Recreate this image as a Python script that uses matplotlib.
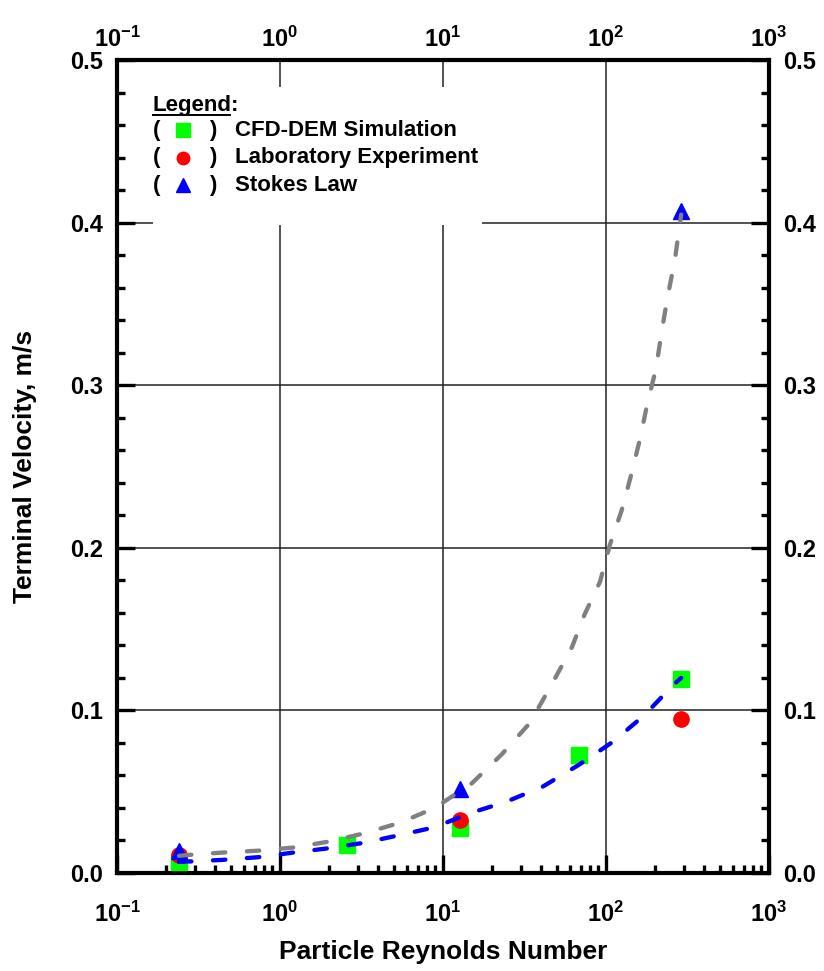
import numpy as np
import matplotlib
matplotlib.use("Agg")
import matplotlib.pyplot as plt
from matplotlib.ticker import FixedLocator, FuncFormatter, MultipleLocator, NullFormatter

plt.rcParams['font.family'] = ['Liberation Sans', 'DejaVu Sans']
plt.rcParams['font.weight'] = 'bold'
plt.rcParams['mathtext.fontset'] = 'custom'
plt.rcParams['mathtext.rm'] = 'Liberation Sans:bold'
plt.rcParams['mathtext.bf'] = 'Liberation Sans:bold'
plt.rcParams['mathtext.it'] = 'Liberation Sans:bold'

# measured points
re_cfd = [0.24, 2.57, 12.7, 68, 290]
v_cfd = [0.007, 0.017, 0.0275, 0.0728, 0.119]
re_lab = [0.24, 12.7, 290]
v_lab = [0.011, 0.0328, 0.095]
re_stokes = [0.24, 12.7, 290]
v_stokes = [0.0135, 0.0515, 0.407]

# dashed trend curves
re_gray = [0.24, 0.27, 0.44, 0.74, 1.2, 2.0, 3.3, 5.5, 8.9, 15, 23, 34, 46, 62,
           74, 92, 106, 125, 144, 162, 180, 203, 220, 239, 265, 290]
v_gray = [0.0105, 0.011, 0.0125, 0.0137, 0.0156, 0.0193, 0.0244, 0.031, 0.040,
          0.055, 0.073, 0.092, 0.115, 0.139, 0.159, 0.179, 0.202, 0.223, 0.246,
          0.267, 0.289, 0.310, 0.333, 0.354, 0.377, 0.405]
re_blue = [0.24, 0.27, 0.44, 0.74, 1.2, 2.0, 3.3, 5.5, 8.9, 14.6, 24.6, 41, 68,
           111, 173, 259, 290]
v_blue = [0.0068, 0.007, 0.008, 0.0097, 0.0125, 0.0152, 0.0186, 0.0234, 0.0281,
          0.0367, 0.0439, 0.0531, 0.0664, 0.0808, 0.0972, 0.1156, 0.12]

legend_labels = ['CFD-DEM Simulation', 'Laboratory Experiment', 'Stokes Law']

xmajor = [0.1, 1, 10, 100, 1000]
xminor = [m * 10.0 ** e for e in range(-1, 3) for m in range(2, 10)]
pow_fmt = FuncFormatter(lambda v, p: r'$10^{%d}$' % round(np.log10(v)))

fig = plt.figure(figsize=(8.24, 9.71), dpi=100)
ax = fig.add_axes([0.142, 0.101, 0.791, 0.837])

ax.set_xscale('log')
ax.set_xlim(0.1, 1000)
ax.set_ylim(0, 0.5)

# grid
ax.grid(True, which='major', color='#222222', linewidth=1.1, zorder=0)
ax.set_axisbelow(True)

# white patch behind legend text
ax.add_patch(plt.Rectangle((0.0552, 0.797), 0.5046, 0.17, transform=ax.transAxes,
                           facecolor='white', edgecolor='none', zorder=1))

ax.plot(re_cfd, v_cfd, 's', color='#00ff00', ms=12, zorder=3)
ax.plot(re_lab, v_lab, 'o', color='#ff0000', ms=11, zorder=3)
ax.plot(re_stokes, v_stokes, '^', color='#0000ff', ms=12, zorder=3)

ax.plot(re_gray, v_gray, color='#808080', lw=3.1, dashes=(2.9, 5.0),
        dash_capstyle='round', zorder=4)
ax.plot(re_blue, v_blue, color='#0000ff', lw=3.1, dashes=(2.9, 5.0),
        dash_capstyle='round', zorder=4)

# ticks
ax.xaxis.set_major_locator(FixedLocator(xmajor))
ax.xaxis.set_minor_locator(FixedLocator(xminor))
ax.xaxis.set_major_formatter(pow_fmt)
ax.xaxis.set_minor_formatter(NullFormatter())
ax.yaxis.set_major_locator(MultipleLocator(0.1))
ax.yaxis.set_minor_locator(MultipleLocator(0.02))
ax.yaxis.set_major_formatter(FuncFormatter(lambda v, p: '%.1f' % v))

ax.tick_params(which='both', direction='in', top=True, right=True,
               labelright=True, labelsize=17)
ax.tick_params(which='major', length=13, width=2.4)
ax.tick_params(which='minor', length=6, width=2.4)
ax.tick_params(axis='x', which='major', pad=21)
ax.tick_params(axis='y', which='major', pad=10)

for s in ax.spines.values():
    s.set_linewidth(3)

# top labels on a twin so they can sit closer to the frame
top = ax.twiny()
top.set_xscale('log')
top.set_xlim(ax.get_xlim())
top.xaxis.set_major_locator(FixedLocator(xmajor))
top.xaxis.set_minor_locator(FixedLocator([]))
top.xaxis.set_major_formatter(pow_fmt)
top.tick_params(axis='x', which='major', length=0, labelsize=17, pad=6)
for s in top.spines.values():
    s.set_visible(False)

ax.set_xlabel('Particle Reynolds Number', fontsize=19, fontweight='bold', labelpad=9)
ax.set_ylabel('Terminal Velocity, m/s', fontsize=19, fontweight='bold', labelpad=24)

# hand-made legend
t = ax.text(0.0552, 0.9446, 'Legend', transform=ax.transAxes, fontsize=16,
            fontweight='bold', va='center', ha='left', zorder=5, alpha=0)
ax.text(0.0552, 0.9446, 'Legend:', transform=ax.transAxes, fontsize=16,
        fontweight='bold', va='center', ha='left', zorder=5)
fig.canvas.draw()
bb = t.get_window_extent().transformed(ax.transAxes.inverted())
ax.plot([bb.x0, bb.x1 - 0.003], [bb.y0 + 0.001, bb.y0 + 0.001], color='black', lw=1.4,
        transform=ax.transAxes, clip_on=False, zorder=5)

rows_y = [0.914, 0.880, 0.846]
mk = [('s', '#00ff00', 10), ('o', '#ff0000', 9), ('^', '#0000ff', 10)]
for y, lab, (m, c, s) in zip(rows_y, legend_labels, mk):
    ax.text(0.0552, y, '(', transform=ax.transAxes, fontsize=16, fontweight='bold',
            va='center', ha='left', zorder=5)
    ax.plot([0.1012], [y], m, color=c, ms=s, transform=ax.transAxes, zorder=5,
            clip_on=False)
    ax.text(0.141, y, ')', transform=ax.transAxes, fontsize=16, fontweight='bold',
            va='center', ha='left', zorder=5)
    ax.text(0.181, y, lab, transform=ax.transAxes, fontsize=16, fontweight='bold',
            va='center', ha='left', zorder=5)

fig.savefig('out.png', dpi=100)
